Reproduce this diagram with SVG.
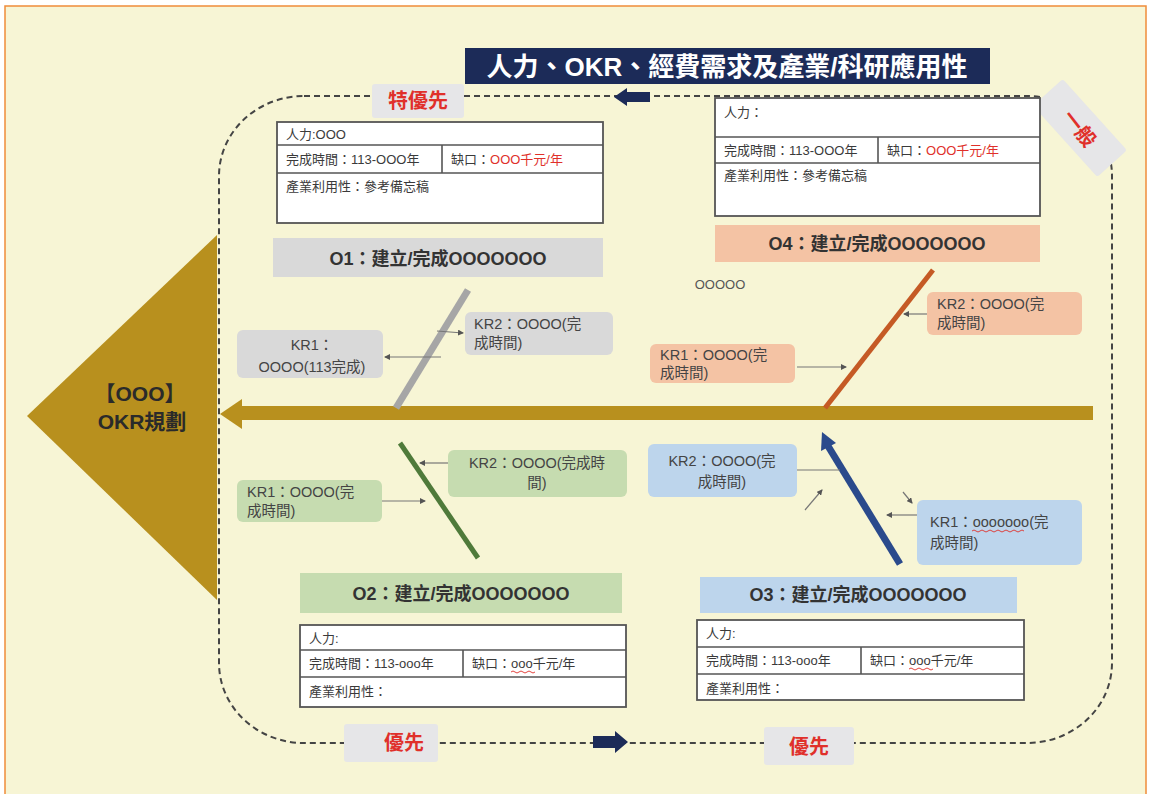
<svg xmlns="http://www.w3.org/2000/svg" width="1151" height="794" viewBox="0 0 1151 794">
<defs>
<style>
text{font-family:"Liberation Sans","Noto Sans CJK TC",sans-serif;fill:#3a3a3a}
.t{font-size:13px}
.red{fill:#e0302a}
.cell{fill:#fff;stroke:#555;stroke-width:1.8}
.sep{stroke:#555;stroke-width:1.6}
.olab{font-size:18px;font-weight:bold;text-anchor:middle;fill:#333}
.kr{font-size:14.5px;fill:#444}
.mid{text-anchor:middle}
.link{stroke:#777;stroke-width:1.2;fill:none;marker-end:url(#ah)}
.loop{fill:none;stroke:#444;stroke-width:2;stroke-dasharray:6 4}
.tag{fill:#e6e6e8}
.tagt{font-size:20px;font-weight:bold;fill:#e0302a;text-anchor:middle}
.wave{fill:none;stroke:#e0302a;stroke-width:0.9}
</style>
<marker id="ah" markerWidth="6" markerHeight="6" refX="5" refY="3" orient="auto" markerUnits="userSpaceOnUse"><path d="M0,0 L6,3 L0,6 z" fill="#555"/></marker>
</defs>
<rect x="0" y="0" width="1151" height="794" fill="#fff"/>
<rect x="5" y="6" width="1141" height="792" fill="#f7f5d5" stroke="#ef8c3a" stroke-width="1.5"/>

<g id="title">
<rect x="465" y="48" width="525" height="36" fill="#1c2b58"/>
<text x="727" y="76" font-size="26" font-weight="bold" text-anchor="middle" style="fill:#fff">人力、OKR、經費需求及產業/科研應用性</text>
</g>

<g id="loop">
<rect class="loop" x="219" y="96" width="893" height="647" rx="85" ry="80"/>
<polygon points="614,97 627,88 627,92 650,92 650,102 627,102 627,106" fill="#1c2b58"/>
<polygon points="628,742 615,731 615,736 593,736 593,748 615,748 615,753" fill="#1c2b58"/>
</g>

<g id="tag-special">
<rect class="tag" x="372" y="84" width="92" height="34" rx="3"/>
<text class="tagt" x="418" y="108" font-size="23">特優先</text>
</g>
<g id="tag-general">
<rect class="tag" x="1032" y="108" width="96" height="40" rx="3" transform="rotate(48 1080 128)"/>
<text class="tagt" x="1080" y="136" transform="rotate(52 1080 128)">一般</text>
</g>
<g id="tag-prio1">
<rect class="tag" x="344" y="724" width="94" height="38" rx="3"/>
<text class="tagt" x="404" y="750">優先</text>
</g>
<g id="tag-prio2">
<rect class="tag" x="764" y="727" width="90" height="38" rx="3"/>
<text class="tagt" x="809" y="754">優先</text>
</g>

<g id="spine">
<polygon points="27,416 217,235 217,600" fill="#b8901e"/>
<text x="140" y="401" font-size="21" font-weight="bold" text-anchor="middle" style="fill:#2a2a2a">【OOO】</text>
<text x="142" y="429" font-size="21" font-weight="bold" text-anchor="middle" style="fill:#2a2a2a">OKR規劃</text>
<line x1="1093" y1="413" x2="236" y2="413" stroke="#b8901e" stroke-width="14"/>
<polygon points="220,414 242,399 242,429" fill="#b8901e"/>
</g>

<g id="connectors">
<line x1="468" y1="290" x2="396" y2="408" stroke="#a6a6a6" stroke-width="7"/>
<line x1="933" y1="270" x2="825" y2="408" stroke="#c55a25" stroke-width="5"/>
<line x1="400" y1="443" x2="478" y2="558" stroke="#4f7a3a" stroke-width="5"/>
<line x1="828" y1="446" x2="900" y2="564" stroke="#2a4a8c" stroke-width="7"/>
<polygon points="822,432 821,451 836,443" fill="#2a4a8c"/>
<line class="link" x1="441" y1="357" x2="385" y2="357"/>
<line class="link" x1="437" y1="331" x2="463" y2="333"/>
<line class="link" x1="927" y1="314" x2="904" y2="314"/>
<line class="link" x1="797" y1="367" x2="846" y2="367"/>
<line class="link" x1="448" y1="463" x2="420" y2="463"/>
<line class="link" x1="382" y1="501" x2="425" y2="501"/>
<line x1="797" y1="470" x2="840" y2="470" stroke="#777" stroke-width="1.2"/>
<line class="link" x1="805" y1="510" x2="822" y2="490"/>
<line class="link" x1="917" y1="515" x2="887" y2="515"/>
<line class="link" x1="903" y1="492" x2="912" y2="503"/>
</g>

<g id="o1">
<rect class="cell" x="277" y="122" width="326" height="101"/>
<line class="sep" x1="277" y1="145" x2="603" y2="145"/>
<line class="sep" x1="277" y1="173" x2="603" y2="173"/>
<line class="sep" x1="442" y1="145" x2="442" y2="173"/>
<text class="t" x="286" y="139">人力:OOO</text>
<text class="t" x="286" y="164">完成時間：113-OOO年</text>
<text class="t" x="451" y="164">缺口：<tspan class="red">OOO千元/年</tspan></text>
<text class="t" x="286" y="191">產業利用性：參考備忘稿</text>
<rect x="273" y="238" width="330" height="39" fill="#d9d9d9"/>
<text class="olab" x="438" y="265">O1：建立/完成OOOOOOO</text>
</g>
<g id="o1-kr1">
<rect x="237" y="330" width="146" height="48" rx="6" fill="#d9d9d9"/>
<text class="kr mid" x="312" y="350">KR1：</text>
<text class="kr mid" x="312" y="372">OOOO(113完成)</text>
</g>
<g id="o1-kr2">
<rect x="465" y="312" width="148" height="43" rx="6" fill="#d9d9d9"/>
<text class="kr" x="474" y="329">KR2：OOOO(完</text>
<text class="kr" x="474" y="348">成時間)</text>
</g>

<g id="o4">
<rect class="cell" x="715" y="98" width="325" height="118"/>
<line class="sep" x1="715" y1="137" x2="1040" y2="137"/>
<line class="sep" x1="715" y1="163" x2="1040" y2="163"/>
<line class="sep" x1="878" y1="137" x2="878" y2="163"/>
<text class="t" x="724" y="117">人力：</text>
<text class="t" x="724" y="155">完成時間：113-OOO年</text>
<text class="t" x="887" y="155">缺口：<tspan class="red">OOO千元/年</tspan></text>
<text class="t" x="724" y="180">產業利用性：參考備忘稿</text>
<rect x="715" y="225" width="325" height="37" fill="#f4c3a4"/>
<text class="olab" x="877" y="250">O4：建立/完成OOOOOOO</text>
<text x="720" y="289" font-size="13" text-anchor="middle" style="fill:#555">OOOOO</text>
</g>
<g id="o4-kr2">
<rect x="927" y="292" width="155" height="43" rx="6" fill="#f4c3a4"/>
<text class="kr" x="937" y="309">KR2：OOOO(完</text>
<text class="kr" x="937" y="328">成時間)</text>
</g>
<g id="o4-kr1">
<rect x="650" y="344" width="145" height="39" rx="6" fill="#f4c3a4"/>
<text class="kr" x="660" y="360">KR1：OOOO(完</text>
<text class="kr" x="660" y="378">成時間)</text>
</g>

<g id="o2">
<rect x="300" y="573" width="322" height="40" fill="#c6dcb0"/>
<text class="olab" x="461" y="600">O2：建立/完成OOOOOOO</text>
<rect class="cell" x="300" y="625" width="326" height="82"/>
<line class="sep" x1="300" y1="650" x2="626" y2="650"/>
<line class="sep" x1="300" y1="677" x2="626" y2="677"/>
<line class="sep" x1="463" y1="650" x2="463" y2="677"/>
<text class="t" x="309" y="643">人力:</text>
<text class="t" x="309" y="668">完成時間：113-ooo年</text>
<text class="t" x="472" y="668">缺口：ooo千元/年</text>
<path class="wave" d="M511,672 q2,-2 4,0 t4,0 t4,0 t4,0 t4,0 t4,0"/>
<text class="t" x="309" y="696">產業利用性：</text>
</g>
<g id="o2-kr2">
<rect x="448" y="450" width="179" height="47" rx="6" fill="#c6dcb0"/>
<text class="kr mid" x="537" y="468">KR2：OOOO(完成時</text>
<text class="kr mid" x="537" y="488">間)</text>
</g>
<g id="o2-kr1">
<rect x="237" y="480" width="145" height="42" rx="6" fill="#c6dcb0"/>
<text class="kr" x="247" y="497">KR1：OOOO(完</text>
<text class="kr" x="247" y="516">成時間)</text>
</g>

<g id="o3">
<rect x="700" y="577" width="317" height="36" fill="#bdd5ec"/>
<text class="olab" x="858" y="601">O3：建立/完成OOOOOOO</text>
<rect class="cell" x="697" y="620" width="327" height="80"/>
<line class="sep" x1="697" y1="647" x2="1024" y2="647"/>
<line class="sep" x1="697" y1="674" x2="1024" y2="674"/>
<line class="sep" x1="861" y1="647" x2="861" y2="674"/>
<text class="t" x="706" y="638">人力:</text>
<text class="t" x="706" y="665">完成時間：113-ooo年</text>
<text class="t" x="870" y="665">缺口：ooo千元/年</text>
<path class="wave" d="M909,669 q2,-2 4,0 t4,0 t4,0 t4,0 t4,0 t4,0"/>
<text class="t" x="706" y="693">產業利用性：</text>
</g>
<g id="o3-kr2">
<rect x="648" y="444" width="149" height="53" rx="6" fill="#bdd5ec"/>
<text class="kr mid" x="722" y="466">KR2：OOOO(完</text>
<text class="kr mid" x="722" y="487">成時間)</text>
</g>
<g id="o3-kr1">
<rect x="917" y="500" width="165" height="65" rx="6" fill="#bdd5ec"/>
<text class="kr" x="930" y="527">KR1：ooooooo(完</text>
<text class="kr" x="930" y="548">成時間)</text>
<path class="wave" d="M972,531 q2,-2 4,0 t4,0 t4,0 t4,0 t4,0 t4,0 t4,0 t4,0 t4,0 t4,0 t4,0 t4,0 t4,0"/>
</g>
</svg>
